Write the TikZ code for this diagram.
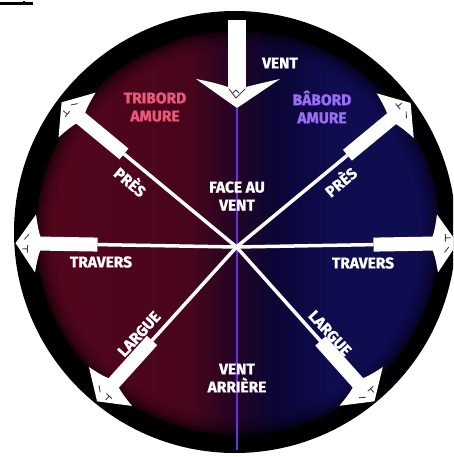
\documentclass[tikz,border=0pt]{standalone}
\usepackage{fontspec}
\setmainfont{Fira Sans}[BoldFeatures={FakeBold=1.3}]
\usetikzlibrary{calc}
\definecolor{discred}{RGB}{84,6,28}
\definecolor{discredB}{RGB}{72,5,28}
\definecolor{discmid}{RGB}{34,4,36}
\definecolor{discmidb}{RGB}{10,6,54}
\definecolor{discnavy}{RGB}{15,12,80}
\definecolor{pinklbl}{RGB}{236,88,122}
\definecolor{lavlbl}{RGB}{156,110,246}
\definecolor{windline}{RGB}{100,50,225}
\definecolor{markcol}{RGB}{70,60,70}
\pgfdeclarehorizontalshading{discshade}{100bp}{color(0bp)=(discred); color(25bp)=(discred); color(44bp)=(discredB); color(49.75bp)=(discmid); color(54.6bp)=(discmidb); color(61.4bp)=(discnavy); color(75bp)=(discnavy); color(100bp)=(discnavy)}
\newcommand{\sailarrow}[3]{%
  \begin{scope}[shift={(hub)}, rotate=#1]
    \draw[thinshaft] (0,0) -- (#2,0);
    \fill[arrowwhite] (#2,-7) rectangle (#3-24,7);
    \fill[arrowwhite] (#3,0) -- (#3-20,-29)
      .. controls (#3-22,-15) and (#3-24,-9) .. (#3-25,-6.5) -- (#3-25,6.5)
      .. controls (#3-24,9) and (#3-22,15) .. (#3-20,29) -- cycle;
    \draw[headmark] (#3-12,-9) -- (#3-12,-2);
    \draw[headmark] (#3-12,-5.5) -- (#3-7,-5.5);
    \draw[headmark] (#3-9,4) -- (#3-13,9);
  \end{scope}}
\begin{document}
\begin{tikzpicture}[x=1pt,y=-1pt,
  arrowwhite/.style={fill=white},
  thinshaft/.style={draw=white, line width=3.5pt},
  headmark/.style={draw=markcol, line width=0.9pt, line cap=round},
  lbl/.style={font=\fontsize{15.5}{18}\selectfont\bfseries, text=white, align=center, inner sep=0pt}]
\useasboundingbox (0,0) rectangle (453,457);
\fill[white] (0,0) rectangle (453,457);
\draw[black, line width=2.5pt] (0,3.5) -- (33,3.5);
\draw[black, line width=1.5pt] (24,1) -- (24,3.5);
\begin{scope}
\clip (0,0) rectangle (453,457);
\fill[black] (235,232) circle[radius=221pt];
\shade[shading=discshade] (238,233) circle[radius=202pt];
\foreach \k/\o in {0/0.6,1/0.42,2/0.28,3/0.17,4/0.09,5/0.04}
  \draw[black, opacity=\o, line width=3pt] (238,233) circle[radius={(201-3*\k)*1pt}];
\coordinate (hub) at (236.5,247);
\coordinate (ventTip) at (237,108);
\coordinate (bottomEnd) at (237,450);
\draw[windline, line width=1.6pt] (ventTip) -- (bottomEnd);
\sailarrow{140.4}{146}{227}
\sailarrow{39.6}{144}{226}
\sailarrow{179}{139}{221}
\sailarrow{1}{137}{221}
\sailarrow{227.9}{126}{208}
\sailarrow{-48.2}{126}{207}
% wind arrow
\fill[arrowwhite] (228,20) rectangle (246,88);
\fill[arrowwhite] (ventTip) -- (196,79) .. controls (212,82) and (222,85) .. (228,87)
  -- (246,87) .. controls (254,85) and (266,82) .. (280,79) -- cycle;
\draw[headmark] (229,89) -- (236,98) -- (245,89);
\draw[headmark] (233,93) -- (236,90) -- (239,93);
% labels
\node[lbl] (vent) at (280,63) {VENT};
\node[lbl, text=pinklbl] (tribord) at (155,107) {TRIBORD\\AMURE};
\node[lbl, text=lavlbl] (babord) at (322,107) {BÂBORD\\AMURE};
\node[lbl] (face) at (237,196) {FACE AU\\VENT};
\node[lbl, rotate=-40] (presL) at (131,181) {PRÈS};
\node[lbl, rotate=40] (presR) at (340,181) {PRÈS};
\node[lbl] (travL) at (101,262) {TRAVERS};
\node[lbl] (travR) at (363,263) {TRAVERS};
\node[lbl, rotate=47.5] (largL) at (139,334) {LARGUE};
\node[lbl, rotate=-47.5] (largR) at (330,333) {LARGUE};
\node[lbl] (arriere) at (237,378) {VENT\\ARRIÈRE};
\end{scope}
\end{tikzpicture}
\end{document}
